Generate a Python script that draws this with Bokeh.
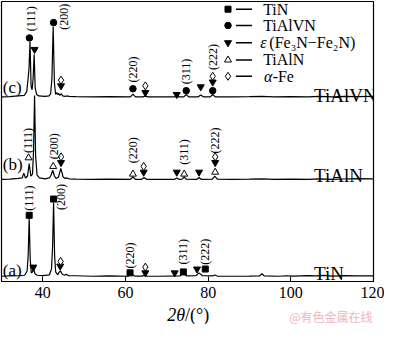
import math
from bokeh.plotting import figure
from bokeh.layouts import column
from bokeh.models import Range1d, FixedTicker
from bokeh.core.properties import value
from bokeh.embed import file_html
from bokeh.resources import INLINE

FONT = "Liberation Serif"

# ---------------- data ----------------
offset_a, offset_b, offset_c = 5, 106, 192

# (a) TiN
a_x = [30, 32, 34, 35.6, 36.2, 36.45, 36.7, 36.95, 37.2, 37.5, 37.8, 38.1, 38.6, 40, 41.6, 42.1, 42.35, 42.6,
       42.85, 43.1, 43.6, 44.0, 44.3, 44.7, 45.3, 45.7, 46.2, 48, 52, 56, 60.6, 61.4, 62.2, 64.0, 64.6, 65.2,
       68, 73.2, 74.0, 74.8, 77.0, 77.8, 78.6, 81.0, 81.6, 82.2, 86, 90, 92.4, 93.0, 93.6, 97, 99, 100.5, 104,
       106, 108, 110, 113, 116, 120]
a_y = [0.5, 0.8, 1.0, 1.5, 6, 22, 61, 18, 4, 5, 8, 3, 1.5, 1.2, 2, 8, 30, 77, 22, 5, 2, 5, 6, 2.5, 1.5, 2.5, 1,
       1, 0.5, 0.8, 0.5, 3, 0.6, 0.6, 1.5, 0.5, 0.5, 0.8, 3.8, 0.8, 1, 4, 1, 0.8, 1.8, 0.7, 0.5, 0.6, 0.8, 3,
       0.8, 0.5, 1, 0.6, 1.2, 0.8, 1.3, 0.7, 1.1, 0.9, 0.8]

# (b) TiAlN
b_x = [30, 32, 34, 35.0, 35.4, 35.8, 36.3, 36.7, 37.1, 37.5, 37.75, 38.0, 38.25, 38.6, 39.2, 40.5, 41.6, 42.0,
       42.4, 42.8, 43.2, 43.8, 44.35, 44.9, 45.4, 45.8, 46.4, 48, 52, 56, 61.2, 61.8, 62.4, 63.9, 64.5, 65.1,
       68, 71.9, 72.4, 72.9, 73.7, 74.2, 74.7, 77.3, 77.8, 78.3, 81.0, 81.6, 82.2, 86, 90, 93, 96, 100, 104,
       107, 110, 113, 116, 120]
b_y = [0.5, 0.8, 1.5, 2, 7, 2, 4, 17, 4, 6, 30, 88, 25, 5, 2, 1, 2, 5, 10, 4, 1.5, 3, 12, 3, 1.5, 2, 1, 0.8,
       0.6, 0.8, 0.6, 3, 0.6, 0.6, 2.5, 0.6, 0.5, 0.6, 2, 0.6, 0.8, 3, 0.8, 0.6, 2.5, 0.6, 0.8, 4, 0.8, 0.5,
       0.7, 1, 0.6, 0.8, 0.5, 1, 0.6, 0.9, 1.2, 1.0]

# (c) TiAlVN
c_x = [30, 32, 34, 35.5, 36.1, 36.4, 36.65, 36.9, 37.15, 37.4, 37.65, 37.9, 38.15, 38.5, 39.0, 40.5, 41.5,
       41.9, 42.2, 42.5, 42.8, 43.1, 43.35, 43.6, 43.85, 44.1, 44.45, 44.8, 45.4, 45.8, 46.4, 48, 52, 56, 61.2,
       61.8, 62.4, 64.2, 64.8, 65.4, 68, 71.9, 72.4, 72.9, 74.1, 74.7, 75.3, 77.6, 78.2, 78.8, 80.5, 81.1,
       81.7, 86, 90, 93, 96, 100, 104, 107, 110, 113, 116, 120]
c_y = [0.5, 0.8, 1.5, 2, 6, 18, 30, 58, 12, 8, 20, 45, 10, 3, 1.5, 1, 1.5, 4, 20, 74, 15, 3, 5, 3, 4, 2, 4,
       1.5, 1, 1.5, 1, 0.8, 0.5, 0.7, 0.6, 3.5, 0.6, 0.5, 1.5, 0.5, 0.5, 0.5, 1.2, 0.5, 0.6, 3, 0.6, 0.6, 2.5,
       0.6, 0.6, 3, 0.6, 0.5, 0.7, 1, 0.5, 0.8, 0.5, 1, 0.6, 1, 0.8, 1]

# phase markers
tin_x = [36.7, 42.6, 61.1, 74.0, 79.3]
tin_y = [69, 86, 9, 10, 13]
tialvn_x = [36.75, 42.6, 61.8, 74.7, 81.1]
tialvn_y = [254, 270, 201, 199, 199]
eps_x = [37.7, 44.2, 64.8, 71.9, 77.3,
         44.4, 64.4, 72.4, 77.8, 81.7,
         38.0, 44.4, 64.8, 72.4, 78.2, 81.1]
eps_y = [15, 16, 9, 9, 13,
         124, 114, 114, 114, 124,
         242, 204, 197, 195, 203, 208]
tialn_x = [36.55, 42.5, 61.8, 74.2, 81.7]
tialn_y = [129, 120, 112, 112, 114]
fe_x = [44.3, 64.8, 44.4, 64.4, 81.7, 44.4, 64.8, 81.1]
fe_y = [21, 15, 130, 120, 130, 210, 204, 214]

# Miller index labels
hkl_text = ["(111)", "(200)", "(220)", "(311)", "(222)",
            "(111)", "(200)", "(220)", "(311)", "(222)",
            "(111)", "(200)", "(220)", "(311)", "(222)"]
hkl_x = [36.6, 44.3, 61.1, 74.0, 79.3,
         36.5, 42.7, 61.8, 74.2, 81.7,
         37.2, 45.0, 61.8, 74.7, 81.1]
hkl_y = [87, 88, 27, 31, 31,
         147, 141, 137, 135, 147,
         274, 276, 221, 219, 234]

sample_names = ["TiN", "TiAlN", "TiAlVN"]
sample_name_y = [8, 111, 194]
panel_tags = ["(a)", "(b)", "(c)"]
panel_tag_y = [11, 122, 202]

legend_names = ["TiN", "TiAlVN", "", "TiAlN", ""]
legend_y = [284, 267, 249, 231, 214]

x_ticks = [40, 60, 80, 100, 120]
x_title = ["2θ", "/(°)"]
watermark = "@有色金属在线"

# ---------------- main figure ----------------
p = figure(width=384, height=305, x_range=Range1d(30, 120), y_range=Range1d(0, 292),
           output_backend="svg", toolbar_location=None, y_axis_location=None,
           min_border_left=1, min_border_right=11, min_border_top=1, min_border_bottom=24)
p.grid.visible = False
p.outline_line_color = "black"
p.outline_line_width = 1.2
p.background_fill_color = "white"
p.border_fill_color = "white"

ax = p.xaxis[0]
ax.ticker = FixedTicker(ticks=x_ticks)
ax.major_tick_in = 5
ax.major_tick_out = 0
ax.minor_tick_in = 0
ax.minor_tick_out = 0
ax.major_tick_line_color = "black"
ax.axis_line_color = "black"
ax.axis_line_width = 1.2
ax.major_label_text_font = FONT
ax.major_label_text_font_size = "16px"
ax.major_label_text_color = "black"
ax.major_label_standoff = 5

for xs, ys, off in [(a_x, a_y, offset_a), (b_x, b_y, offset_b), (c_x, c_y, offset_c)]:
    p.line(xs, [off + v for v in ys], line_color="black", line_width=1.2)

p.scatter(tin_x, tin_y, marker="square", size=6, color="black")
p.scatter(tialvn_x, tialvn_y, marker="circle", size=6.5, color="black")
p.scatter(eps_x, eps_y, marker="inverted_triangle", size=7, color="black")
p.scatter(tialn_x, tialn_y, marker="triangle", size=7, fill_color="white", line_color="black", line_width=1)
p.scatter(fe_x, fe_y, marker="diamond", size=8, fill_color="white", line_color="black", line_width=1)

p.text(x=hkl_x, y=hkl_y, text=hkl_text, angle=math.pi / 2, text_align="center", text_baseline="middle",
       text_font=value(FONT), text_font_size="12px", text_color="black")

p.text(x=[105.6] * 3, y=sample_name_y, text=sample_names, text_align="left", text_baseline="alphabetic",
       text_font=value(FONT), text_font_size="19px", text_color="black")
p.text(x=[30.3] * 3, y=panel_tag_y, text=panel_tags, text_align="left", text_baseline="middle",
       text_font=value(FONT), text_font_size="17px", text_color="black")

lx_marker = 84.8
p.scatter([lx_marker], [legend_y[0]], marker="square", size=6, color="black")
p.scatter([lx_marker], [legend_y[1]], marker="circle", size=6.5, color="black")
p.scatter([lx_marker], [legend_y[2]], marker="inverted_triangle", size=7, color="black")
p.scatter([lx_marker], [legend_y[3]], marker="triangle", size=7, fill_color="white", line_color="black")
p.scatter([lx_marker], [legend_y[4]], marker="diamond", size=8, fill_color="white", line_color="black")
p.segment(x0=[86.7] * 5, y0=legend_y, x1=[90.6] * 5, y1=legend_y, line_color="black", line_width=1.5)
p.text(x=[93.3] * 5, y=legend_y, text=legend_names, text_align="left", text_baseline="middle",
       text_font=value(FONT), text_font_size="16px", text_color="black")
p.text(x=[92.6, 93.5], y=[legend_y[2], legend_y[4]], text=["ε", "α"], text_align="left", text_baseline="middle",
       text_font=value(FONT), text_font_style="italic", text_font_size="16px", text_color="black")
p.text(x=[94.8, 95.6], y=[legend_y[2], legend_y[4]], text=[" (Fe₃N−Fe₂N)", " -Fe"], text_align="left",
       text_baseline="middle", text_font=value(FONT), text_font_size="16px", text_color="black")

# ---------------- strip below: axis title + watermark ----------------
p2 = figure(width=384, height=19, x_range=Range1d(0, 383), y_range=Range1d(0, 19),
            output_backend="svg", toolbar_location=None, x_axis_location=None, y_axis_location=None,
            min_border_left=1, min_border_right=0, min_border_top=0, min_border_bottom=0)
p2.grid.visible = False
p2.outline_line_color = None
p2.background_fill_color = "white"
p2.border_fill_color = "white"
p2.text(x=[189], y=[9.5], text=[x_title[0]], text_align="right", text_baseline="middle",
        text_font=value(FONT), text_font_style="italic", text_font_size="18px", text_color="black")
p2.text(x=[189], y=[9.5], text=[x_title[1]], text_align="left", text_baseline="middle",
        text_font=value(FONT), text_font_size="18px", text_color="black")
p2.text(x=[382], y=[8.5], text=[watermark], text_align="right", text_baseline="middle",
        text_font=value("Noto Sans CJK SC"), text_font_size="12px", text_color="#f2b3bd")

layout = column(p, p2, spacing=0)
open("out.html", "w").write(file_html(layout, INLINE))
